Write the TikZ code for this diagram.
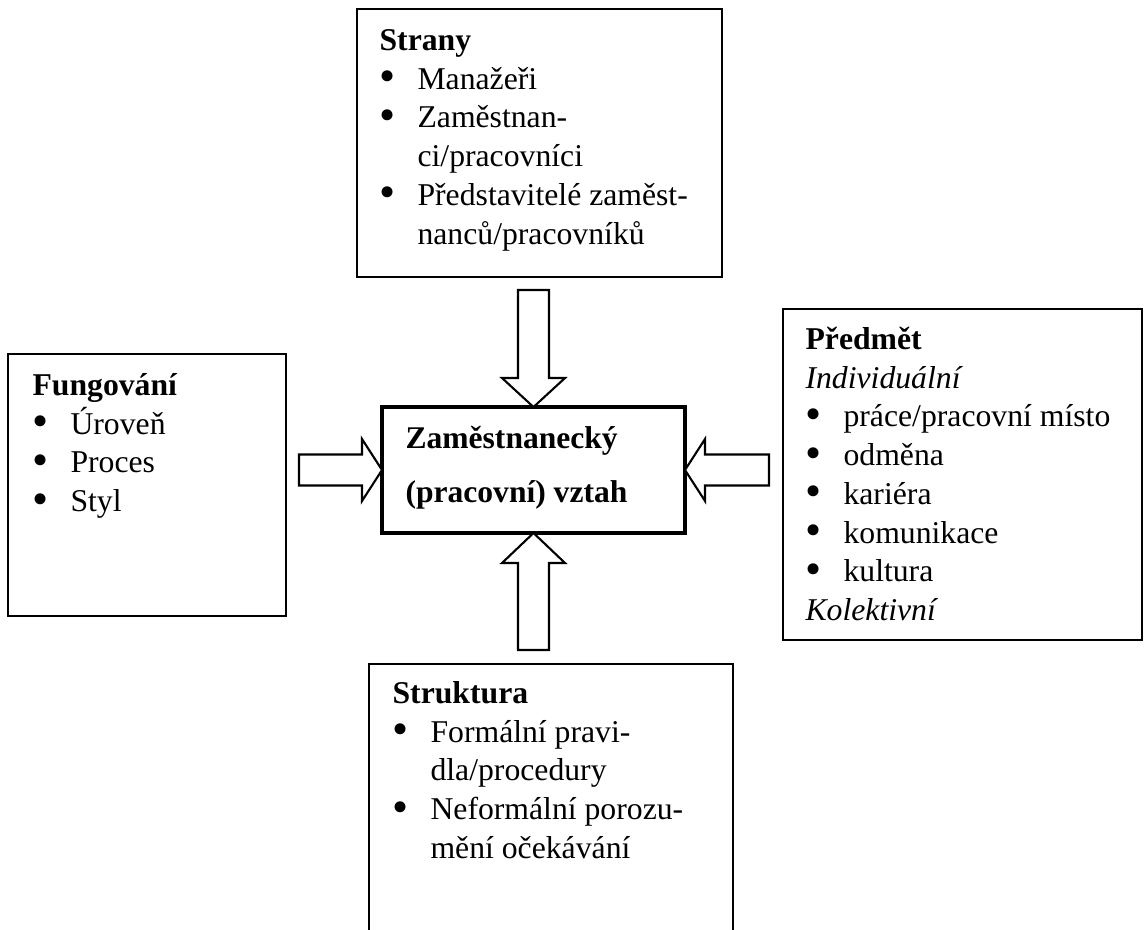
\documentclass[tikz,border=0pt]{standalone}
\usepackage{fontspec}
\setmainfont{Liberation Serif}
\usetikzlibrary{positioning,calc}
\newdimen\pxu \pxu=0.358pt
\newcommand{\bul}{\makebox[13.6pt][l]{\raisebox{-0.9pt}{\scalebox{1.45}{\textbullet}}}}
\newcommand{\cont}{\hspace*{13.6pt}}
\newcommand{\topstrut}{\rule{0pt}{10pt}}

\begin{document}
\begin{tikzpicture}[
    x=0.358pt, y=-0.358pt,
    panel/.style={
        draw, line width=0.8pt, inner sep=0pt, outer sep=0pt
    },
    core/.style={
        draw, line width=1.6pt, inner sep=0pt, outer sep=0pt
    },
    txt/.style={
        anchor=north west, inner sep=0pt, align=left,
        font=\fontsize{11.35pt}{13.85pt}\selectfont
    },
    coretxt/.style={
        anchor=north west, inner sep=0pt, align=left,
        font=\fontsize{11.3pt}{19.35pt}\selectfont\bfseries
    },
    blockarr/.style={draw, line width=0.75pt, fill=white, line join=miter}
]
    \useasboundingbox (0,0) rectangle (1144,929);

    \node[panel, minimum width=365\pxu, minimum height=268\pxu] (strany) at (539.5,143) {};
    \node[txt] (stranytxt) at (379,22.1)
        {\topstrut\textbf{Strany}\\
         \bul Manažeři\\
         \bul Zaměstnan-\\
         \cont ci/pracovníci\\
         \bul Představitelé zaměst-\\
         \cont nanců/pracovníků};

    \node[panel, minimum width=278\pxu, minimum height=262\pxu] (fungovani) at (147,485) {};
    \node[txt] (fungovanitxt) at (32,367.1)
        {\topstrut\textbf{Fungování}\\
         \bul Úroveň\\
         \bul Proces\\
         \bul Styl};

    \node[panel, minimum width=359\pxu, minimum height=331\pxu] (predmet) at (962.5,474.5) {};
    \node[txt] (predmettxt) at (805,321.1)
        {\topstrut\textbf{Předmět}\\
         \textit{Individuální}\\
         \bul práce/pracovní místo\\
         \bul odměna\\
         \bul kariéra\\
         \bul komunikace\\
         \bul kultura\\
         \textit{Kolektivní}};

    \node[panel, minimum width=364\pxu, minimum height=286\pxu] (struktura) at (551,807) {};
    \node[txt] (strukturatxt) at (392,675.1)
        {\topstrut\textbf{Struktura}\\
         \bul Formální pravi-\\
         \cont dla/procedury\\
         \bul Neformální porozu-\\
         \cont mění očekávání};

    \node[core, minimum width=303\pxu, minimum height=126\pxu] (vztah) at (533.5,470) {};
    \node[coretxt] (vztahtxt) at (405,420.1)
        {\topstrut Zaměstnanecký\\
         (pracovní) vztah};

    \draw[blockarr] (vztah.north) -- ++(-31.5,-29) -- ++(16,0) -- ++(0,-88)
        -- ++(31,0) -- ++(0,88) -- ++(16,0) -- cycle;
    \draw[blockarr] (vztah.south) -- ++(-31.5,30) -- ++(16,0) -- ++(0,87)
        -- ++(31,0) -- ++(0,-87) -- ++(16,0) -- cycle;
    \draw[blockarr] (vztah.west) -- ++(-20,-31) -- ++(0,15.5) -- ++(-63,0)
        -- ++(0,31) -- ++(63,0) -- ++(0,15.5) -- cycle;
    \draw[blockarr] (vztah.east) -- ++(20,-31) -- ++(0,15.5) -- ++(64,0)
        -- ++(0,31) -- ++(-64,0) -- ++(0,15.5) -- cycle;
\end{tikzpicture}
\end{document}
